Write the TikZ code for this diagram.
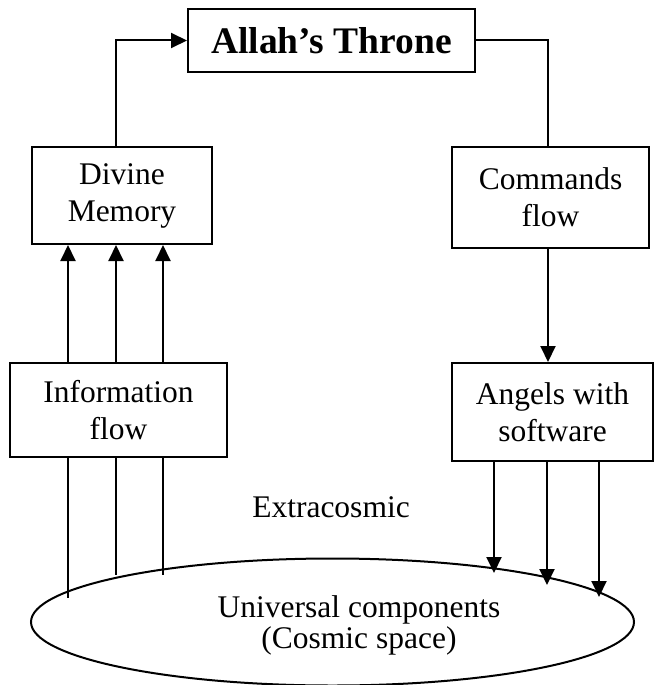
\documentclass[tikz,border=0pt]{standalone}
\usepackage{fontspec}
\setmainfont{Liberation Serif}
\usetikzlibrary{arrows.meta}
\usetikzlibrary{shapes.geometric}
\tikzset{>={Triangle[width=15pt,length=16pt]}}
\tikzset{
  box/.style={draw, line width=2pt, align=center, inner sep=0pt,
    font=\fontsize{31.5pt}{37pt}\selectfont},
  flow/.style={line width=2pt, ->},
  thinline/.style={line width=1.3pt}
}

\begin{document}
\begin{tikzpicture}[x=1pt,y=-1pt]

  \useasboundingbox (0,0) rectangle (655,685);

  \node[box, minimum width=287pt, minimum height=63pt,
    font=\fontsize{37.5pt}{42pt}\selectfont\bfseries] (throne) at (331.5,40.5) {Allah’s Throne};
  \node[box, minimum width=180pt, minimum height=97pt] (memory) at (122,195.5) {Divine\\Memory};
  \node[box, minimum width=197pt, minimum height=101pt] (commands) at (550.5,197.5) {Commands\\flow};
  \node[box, minimum width=217pt, minimum height=94pt] (info) at (118.5,410) {Information\\flow};
  \node[box, minimum width=201pt, minimum height=98pt] (angels) at (552.5,412) {Angels with\\software};

  \node[draw, ellipse, line width=2pt, minimum width=603pt, minimum height=127pt] (cosmos) at (332.5,622) {};
  \node[align=center, font=\fontsize{31.5pt}{31pt}\selectfont] (cosmostext) at (359,625) {Universal components\\(Cosmic space)};
  \node[font=\fontsize{31.5pt}{37pt}\selectfont] (extra) at (331,507) {Extracosmic};

  \draw[flow] ([xshift=-6pt]memory.north) |- (throne.west);
  \draw[line width=2pt] (throne.east) -| ([xshift=-2.5pt]commands.north);
  \draw[flow] ([xshift=-2.5pt]commands.south) -- ([xshift=-4.5pt]angels.north);

  \foreach \x in {68,116,163}
    \draw[flow] (info.north -| \x,0) -- (memory.south -| \x,0);

  \coordinate (in1) at (68,598);
  \coordinate (in2) at (116,575);
  \coordinate (in3) at (163,575);
  \draw[thinline] (info.south -| in1) -- (in1);
  \draw[thinline] (info.south -| in2) -- (in2);
  \draw[thinline] (info.south -| in3) -- (in3);

  \coordinate (out1) at (494,573);
  \coordinate (out2) at (547,585);
  \coordinate (out3) at (599,597);
  \draw[flow] (angels.south -| out1) -- (out1);
  \draw[flow] (angels.south -| out2) -- (out2);
  \draw[flow] (angels.south -| out3) -- (out3);

\end{tikzpicture}
\end{document}
